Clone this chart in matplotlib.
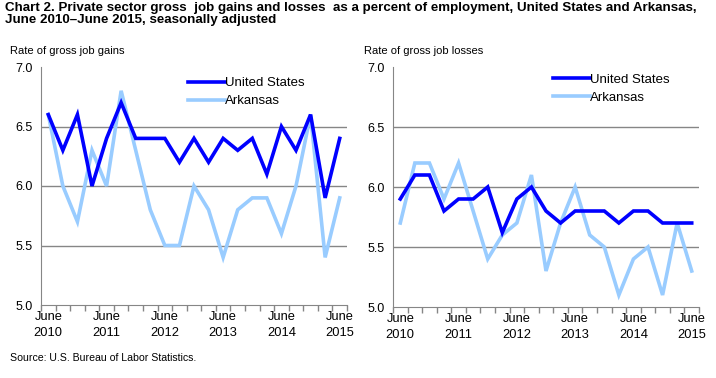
import numpy as np
import matplotlib.pyplot as plt

plt.rcParams['font.family'] = ['Liberation Sans', 'DejaVu Sans']

# quarterly, June 2010 - June 2015
tick_labels = ['June\n2010', 'June\n2011', 'June\n2012', 'June\n2013', 'June\n2014', 'June\n2015']

gains_us = [6.6, 6.3, 6.6, 6.0, 6.4, 6.7, 6.4, 6.4, 6.4, 6.2, 6.4,
            6.2, 6.4, 6.3, 6.4, 6.1, 6.5, 6.3, 6.6, 5.9, 6.4]
gains_ar = [6.6, 6.0, 5.7, 6.3, 6.0, 6.8, 6.3, 5.8, 5.5, 5.5, 6.0,
            5.8, 5.4, 5.8, 5.9, 5.9, 5.6, 6.0, 6.6, 5.4, 5.9]

losses_us = [5.9, 6.1, 6.1, 5.8, 5.9, 5.9, 6.0, 5.62, 5.9, 6.0, 5.8,
             5.7, 5.8, 5.8, 5.8, 5.7, 5.8, 5.8, 5.7, 5.7, 5.7]
losses_ar = [5.7, 6.2, 6.2, 5.9, 6.2, 5.8, 5.4, 5.6, 5.7, 6.1, 5.3,
             5.7, 6.0, 5.6, 5.5, 5.1, 5.4, 5.5, 5.1, 5.7, 5.3]

US_COLOR = '#0000ff'
AR_COLOR = '#99ccff'

fig = plt.figure(figsize=(7.16, 3.78), dpi=100)
W, H = 716, 378


def panel(rect, us, ar, ylabel, ylabel_x, leg_anchor):
    x0, y0, x1, y1 = rect
    ax = fig.add_axes([x0 / W, 1 - y1 / H, (x1 - x0) / W, (y1 - y0) / H])
    x = np.arange(len(us))
    ax.plot(x, ar, color=AR_COLOR, lw=2.6, label='Arkansas', solid_joinstyle='miter')
    ax.plot(x, us, color=US_COLOR, lw=2.6, label='United States', solid_joinstyle='miter')
    ax.set_xlim(-0.5, len(us) - 0.5)
    ax.set_ylim(5.0, 7.0)
    ax.set_yticks([5.0, 5.5, 6.0, 6.5, 7.0])
    ax.set_yticklabels(['5.0', '5.5', '6.0', '6.5', '7.0'], fontsize=9)
    for v in [5.5, 6.0, 6.5]:
        ax.axhline(v, color='#868686', lw=1.0, zorder=0)
    # category boundary ticks
    ax.set_xticks(np.arange(-0.5, len(us), 1))
    ax.set_xticklabels([])
    ax.tick_params(axis='x', length=4, color='#868686', width=1)
    ax.tick_params(axis='y', length=0, pad=6)
    for i, lab in enumerate(tick_labels):
        ax.text(i * 4, -0.025, lab, transform=ax.get_xaxis_transform(),
                ha='center', va='top', fontsize=9.3, linespacing=1.4)
    for s in ['top', 'right']:
        ax.spines[s].set_visible(False)
    for s in ['left', 'bottom']:
        ax.spines[s].set_color('#868686')
    h, l = ax.get_legend_handles_labels()
    ax.legend(h[::-1], l[::-1], loc='upper right', bbox_to_anchor=leg_anchor,
              frameon=False, fontsize=9.5, handlelength=2.8, handletextpad=0.0,
              labelspacing=0.45, borderaxespad=0)
    fig.text(ylabel_x / W, 1 - 51 / H, ylabel, fontsize=8, va='center', ha='left')
    return ax


panel((41, 67, 347, 305), gains_us, gains_ar, 'Rate of gross job gains', 10, (0.88, 0.98))
panel((393, 67, 699, 307), losses_us, losses_ar, 'Rate of gross job losses', 364, (0.92, 0.995))

fig.text(5 / W, 1 - 2 / H,
         'Chart 2. Private sector gross  job gains and losses  as a percent of employment, United States and Arkansas,\nJune 2010\u2013June 2015, seasonally adjusted',
         fontsize=9.6, fontweight='bold', va='top', ha='left', linespacing=1.05)
fig.text(10 / W, 1 - 358 / H, 'Source: U.S. Bureau of Labor Statistics.',
         fontsize=7.6, va='center', ha='left')

fig.savefig('out.png', dpi=100)
